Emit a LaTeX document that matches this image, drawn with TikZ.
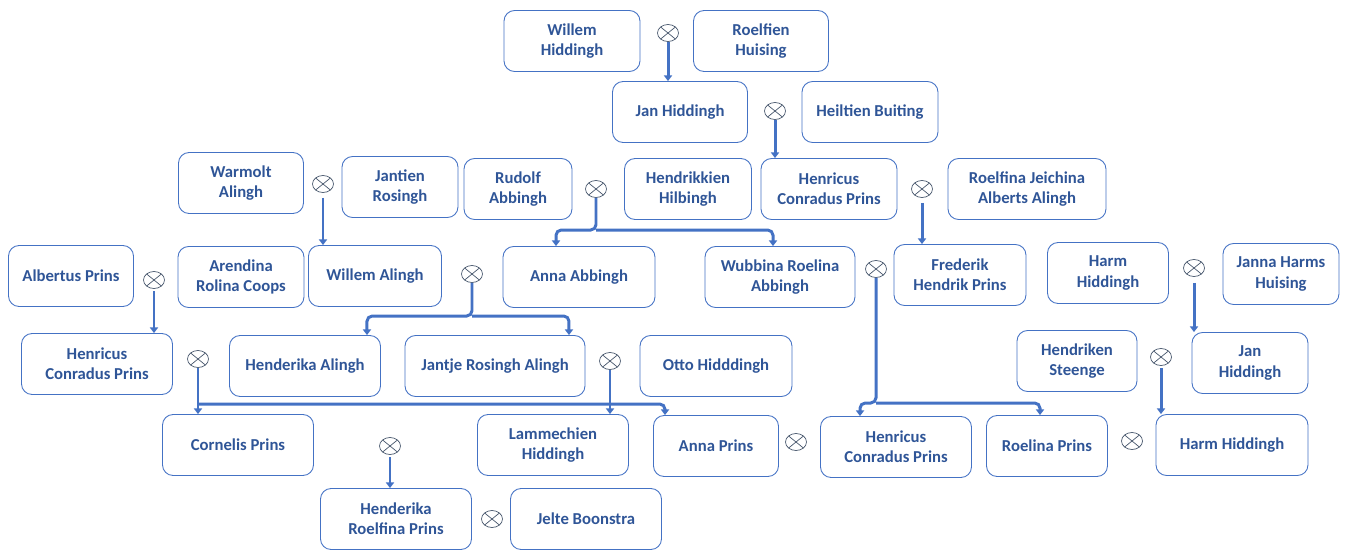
\documentclass[tikz,border=0pt]{standalone}
\usepackage{fontspec}
\setmainfont{Carlito}
\usetikzlibrary{shapes.geometric,arrows.meta}
\definecolor{boxline}{RGB}{68,114,196}
\definecolor{namecol}{RGB}{47,85,151}
\definecolor{wedline}{RGB}{68,84,106}
\tikzset{
  person/.style={draw=boxline,line width=0.5pt,rounded corners=6pt,minimum width=#1,
    minimum height=1.22cm,align=center,text=namecol,inner sep=1pt,
    font=\fontsize{9.5}{11.4}\selectfont\bfseries},
  person/.default=3.02cm,
  wed/.style={ellipse,draw=wedline,line width=0.4pt,minimum width=0.42cm,minimum height=0.34cm,
    inner sep=0pt,path picture={\draw[wedline,line width=0.4pt]
      (path picture bounding box.north west)--(path picture bounding box.south east)
      (path picture bounding box.north east)--(path picture bounding box.south west);}},
  kid/.style={->,draw=boxline,line width=1.7pt,rounded corners=3pt}
}
\begin{document}
\begin{tikzpicture}[x=0.02cm,y=-0.02cm,>={Triangle[length=3.2pt,width=4.6pt]}]
\useasboundingbox (0,0) rectangle (1346,549);
\node[person=2.72cm] (wHid) at (572,41) {Willem\\Hiddingh};
\node[person=2.70cm] (rHui) at (761,41) {Roelfien\\Huising};
\node[person=2.70cm] (jHid) at (680,112) {Jan Hiddingh};
\node[person=2.72cm] (hBui) at (870,112) {Heiltien Buiting};
\node[person=2.16cm] (rAbb) at (518,189) {Rudolf\\Abbingh};
\node[person=2.54cm] (hHil) at (688,189) {Hendrikkien\\Hilbingh};
\node[person=2.72cm] (hPrA) at (829,189) {Henricus\\Conradus Prins};
\node[person=3.16cm] (rAli) at (1027,189) {Roelfina Jeichina\\Alberts Alingh};
\node[person=2.50cm] (wAli) at (241,183) {Warmolt\\Alingh};
\node[person=2.32cm] (jRos) at (400,187) {Jantien\\Rosingh};
\node[person=2.50cm] (aPri) at (71,276) {Albertus Prins};
\node[person=2.52cm] (aCoo) at (241,277) {Arendina\\Rolina Coops};
\node[person=2.66cm] (wAlg) at (375,276) {Willem Alingh};
\node[person=3.04cm] (aAbb) at (579,277) {Anna Abbingh};
\node[person=3.00cm] (wAbb) at (780,277) {Wubbina Roelina\\Abbingh};
\node[person=2.64cm] (fPri) at (960,275) {Frederik\\Hendrik Prins};
\node[person=2.42cm] (hHidA) at (1108,273) {Harm\\Hiddingh};
\node[person=2.32cm] (jHui) at (1281,274) {Janna Harms\\Huising};
\node[person] (hPrB) at (97,364) {Henricus\\Conradus Prins};
\node[person] (hAli) at (305,366) {Henderika Alingh};
\node[person=3.60cm] (jAli) at (495,366) {Jantje Rosingh Alingh};
\node[person=3.04cm] (oHid) at (716,366) {Otto Hidddingh};
\node[person=2.40cm] (hSte) at (1077,361) {Hendriken\\Steenge};
\node[person=2.32cm] (jHidB) at (1250,363) {Jan\\Hiddingh};
\node[person] (cPri) at (238,445) {Cornelis Prins};
\node[person] (lHid) at (553,445) {Lammechien\\Hiddingh};
\node[person=2.50cm] (anPri) at (716,446) {Anna Prins};
\node[person] (hPrC) at (896,447) {Henricus\\Conradus Prins};
\node[person=2.42cm] (roPri) at (1047,446) {Roelina Prins};
\node[person=3.04cm] (hHidB) at (1232,445) {Harm Hiddingh};
\node[person] (hrPri) at (396,519) {Henderika\\Roelfina Prins};
\node[person] (jBoo) at (586,519) {Jelte Boonstra};

\node[wed] (m1) at (668,33) {};
\node[wed] (m2) at (775,111) {};
\node[wed] (m3) at (596,189) {};
\node[wed] (m4) at (922,189) {};
\node[wed] (m5) at (323,184) {};
\node[wed] (m6) at (154,280) {};
\node[wed] (m7) at (876,269) {};
\node[wed] (m8) at (1194,268) {};
\node[wed] (m9) at (472,274) {};
\node[wed] (m10) at (198,359) {};
\node[wed] (m11) at (610,361) {};
\node[wed] (m12) at (1161,357) {};
\node[wed] (m13) at (796,442) {};
\node[wed] (m14) at (1132,441) {};
\node[wed] (m15) at (390,446) {};
\node[wed] (m16) at (492,519) {};

\coordinate (b3) at (596,230);
\coordinate (b7) at (876,403);
\coordinate (b9) at (472,316);
\coordinate (b10) at (198,404);

\draw[kid] (m1.south) -- (m1.south |- jHid.north);
\draw[kid] (m2.south) -- (m2.south |- hPrA.north);
\draw[kid] ([yshift=-0.1cm]m4.south) -- (m4.south |- fPri.north);
\draw[kid] ([yshift=-0.1cm]m5.south) -- (m5.south |- wAlg.north);
\draw[kid] ([yshift=-0.05cm]m6.south) -- (m6.south |- hPrB.north);
\draw[kid] ([yshift=-0.12cm]m8.south) -- (m8.south |- jHidB.north);
\draw[kid] (m11.south) -- (m11.south |- lHid.north);
\draw[kid] ([yshift=-0.05cm]m12.south) -- (m12.south |- hHidB.north);
\draw[kid] ([yshift=-0.05cm]m15.south) -- (m15.south |- hrPri.north);
\draw[kid] (m3.south) -- (b3) -| ([xshift=-0.46cm]aAbb.north);
\draw[kid] (b3) -| ([xshift=-0.14cm]wAbb.north);
\draw[kid] (m7.south) -- (b7) -| ([xshift=-0.72cm]hPrC.north);
\draw[kid] (b7) -| ([xshift=-0.14cm]roPri.north);
\draw[kid] (m9.south) -- (b9) -| ([xshift=1.24cm]hAli.north);
\draw[kid] (b9) -| ([xshift=1.48cm]jAli.north);
\draw[kid] (m10.south) -- (m10.south |- cPri.north);
\draw[kid] (b10) -| ([xshift=-1.02cm]anPri.north);
\end{tikzpicture}
\end{document}
